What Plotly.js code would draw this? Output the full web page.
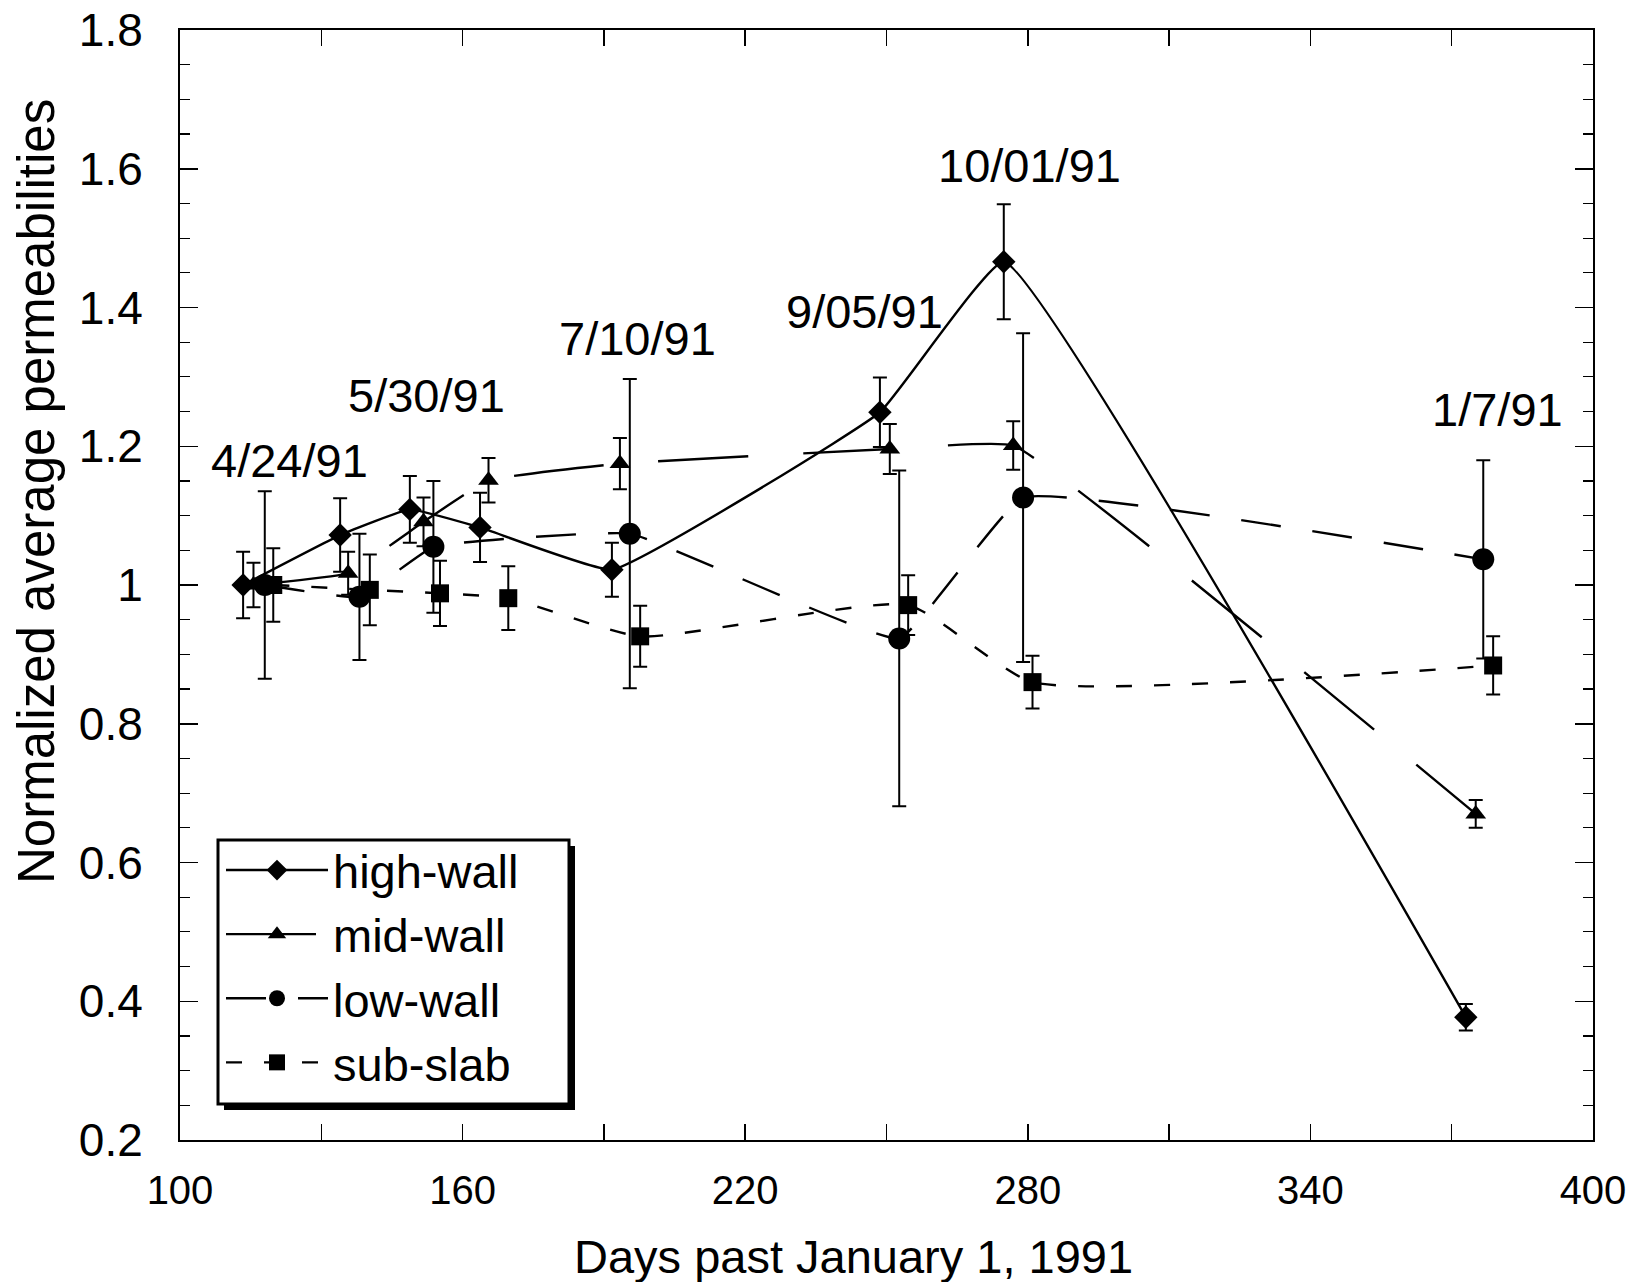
<!DOCTYPE html>
<html>
<head>
<meta charset="utf-8">
<script src="https://cdn.plot.ly/plotly-3.0.1.min.js"></script>
<style>html,body{margin:0;padding:0;background:#fff;}#chart{width:1652px;height:1282px;}</style>
</head>
<body>
<div id="chart"></div>
<script>
// ---- data ----
const seriesNames = ["high-wall", "mid-wall", "low-wall", "sub-slab"];

const highDays = [113.4, 134.0, 148.8, 163.7, 191.7, 248.6, 274.9, 373.0];
const highVals = [1.000, 1.072, 1.109, 1.083, 1.022, 1.249, 1.466, 0.377];
const highErr  = [0.048, 0.053, 0.048, 0.050, 0.039, 0.050, 0.083, 0.019];

const midDays = [115.6, 135.7, 151.7, 165.5, 193.4, 250.7, 276.9, 375.1];
const midVals = [1.000, 1.017, 1.091, 1.151, 1.175, 1.196, 1.201, 0.670];
const midErr  = [0.032, 0.031, 0.035, 0.032, 0.037, 0.036, 0.035, 0.020];

const lowDays = [118.0, 138.1, 153.8, 195.5, 252.7, 279.0, 376.7];
const lowVals = [1.000, 0.983, 1.055, 1.074, 0.923, 1.126, 1.037];
const lowErr  = [0.135, 0.091, 0.095, 0.223, 0.242, 0.237, 0.143];

const subDays = [119.8, 140.3, 155.2, 169.7, 197.7, 254.6, 281.0, 378.8];
const subVals = [1.000, 0.993, 0.988, 0.981, 0.926, 0.971, 0.860, 0.884];
const subErr  = [0.053, 0.051, 0.047, 0.046, 0.044, 0.043, 0.038, 0.042];

const dateLabels = ["4/24/91", "5/30/91", "7/10/91", "9/05/91", "10/01/91", "1/7/91"];
const dateLabelX = [123.3, 152.4, 197.1, 245.4, 280.3, 379.7];
const dateLabelY = [1.179, 1.273, 1.356, 1.394, 1.605, 1.253];

const xTickVals = [100, 130, 160, 190, 220, 250, 280, 310, 340, 370, 400];
const xTickText = ["100", "", "160", "", "220", "", "280", "", "340", "", "400"];

const xTitle = "Days past January 1, 1991";
const yTitle = "Normalized average permeabilities";

// ---- styling ----
const FONT = "Liberation Sans, Arial, Helvetica, sans-serif";
const M = {l: 180, r: 59, t: 30, b: 142};
const PW = 1652 - M.l - M.r, PH = 1282 - M.t - M.b;
const pxX = v => (v - M.l) / PW;          // pixel -> paper x
const pxY = v => 1 - (v - M.t) / PH;      // pixel -> paper y

function errBar(arr) {
  return {type: "data", array: arr, visible: true, color: "#000", thickness: 2, width: 7};
}
function trace(name, x, y, e, symbol, size, dash, smooth) {
  return {
    type: "scatter", mode: "lines+markers", name: name,
    x: x, y: y, error_y: errBar(e),
    marker: {symbol: symbol, size: size, color: "#000"},
    line: {color: "#000", width: 2.4, dash: dash, shape: "spline", smoothing: smooth}
  };
}

const data = [
  trace(seriesNames[0], highDays, highVals, highErr, "diamond", 18, "solid", 0.3),
  trace(seriesNames[1], midDays, midVals, midErr, "triangle-up", 18, "90px,55px", 0.3),
  trace(seriesNames[2], lowDays, lowVals, lowErr, "circle", 22, "40px,32px", 0.3),
  trace(seriesNames[3], subDays, subVals, subErr, "square", 18, "16px,22px", 0.5)
];

const annotations = dateLabels.map((t, i) => ({
  x: dateLabelX[i], y: dateLabelY[i], xref: "x", yref: "y",
  text: t, showarrow: false, font: {family: FONT, size: 47, color: "#000"}
}));
// axis titles placed as annotations (positions as in the reference)
annotations.push({
  x: pxX(853), y: pxY(1256), xref: "paper", yref: "paper",
  text: xTitle, showarrow: false, xanchor: "center", yanchor: "middle",
  font: {family: FONT, size: 47, color: "#000"}
});
annotations.push({
  x: pxX(37), y: pxY(492), xref: "paper", yref: "paper",
  text: yTitle, showarrow: false, textangle: -90, xanchor: "center", yanchor: "middle",
  font: {family: FONT, size: 51, color: "#000"}
});

// legend frame with drop shadow (pixel box as in the reference)
const box = {x0: 218, y0: 840, x1: 569, y1: 1104}, off = 6;
const shapes = [
  {type: "rect", xref: "paper", yref: "paper", layer: "above",
   x0: pxX(box.x0 + off), x1: pxX(box.x1 + off), y0: pxY(box.y1 + off), y1: pxY(box.y0 + off),
   fillcolor: "#000", line: {width: 0}},
  {type: "rect", xref: "paper", yref: "paper", layer: "above",
   x0: pxX(box.x0), x1: pxX(box.x1), y0: pxY(box.y1), y1: pxY(box.y0),
   fillcolor: "#fff", line: {color: "#000", width: 3}}
];

const layout = {
  width: 1652, height: 1282,
  paper_bgcolor: "#fff", plot_bgcolor: "#fff",
  margin: M,
  showlegend: true,
  legend: {
    x: pxX(box.x0 + 3), y: pxY(833), xanchor: "left", yanchor: "top",
    bgcolor: "rgba(0,0,0,0)", borderwidth: 0,
    font: {family: FONT, size: 47, color: "#000"},
    tracegroupgap: 0, itemwidth: 102
  },
  xaxis: {
    range: [100, 400], showgrid: false, zeroline: false,
    showline: true, linecolor: "#000", linewidth: 2, mirror: "ticks",
    ticks: "inside", ticklen: 16, tickwidth: 1.5, tickcolor: "#000",
    tickmode: "array", tickvals: xTickVals, ticktext: xTickText,
    tickfont: {family: FONT, size: 40, color: "#000"},
    ticklabelstandoff: 14
  },
  yaxis: {
    range: [0.2, 1.8], showgrid: false, zeroline: false,
    showline: true, linecolor: "#000", linewidth: 2, mirror: "ticks",
    ticks: "inside", ticklen: 18, tickwidth: 1.5, tickcolor: "#000",
    dtick: 0.2, tick0: 0.2,
    minor: {dtick: 0.05, ticks: "inside", ticklen: 10, tickwidth: 1.2, tickcolor: "#000", showgrid: false},
    tickfont: {family: FONT, size: 46, color: "#000"},
    ticklabelstandoff: 26
  },
  shapes: shapes,
  annotations: annotations
};

Plotly.newPlot("chart", data, layout, {displayModeBar: false, staticPlot: true});
</script>
</body>
</html>
